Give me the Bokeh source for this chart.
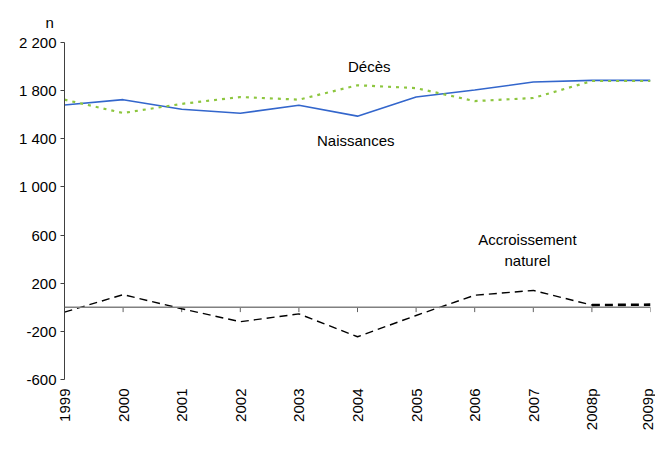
import math
from bokeh.plotting import figure
from bokeh.models import Range1d, FixedTicker, Span, Label
from bokeh.embed import file_html
from bokeh.resources import INLINE

years = ["1999", "2000", "2001", "2002", "2003", "2004", "2005", "2006", "2007", "2008p", "2009p"]
naissances = [1681, 1725, 1646, 1612, 1678, 1588, 1747, 1805, 1872, 1885, 1885]
deces = [1725, 1614, 1690, 1747, 1725, 1845, 1821, 1713, 1739, 1880, 1880]
accroissement = [-40, 105, -12, -120, -55, -245, -68, 100, 140, 18, 22]
y_ticks = [-600, -200, 200, 600, 1000, 1400, 1800, 2200]
y_tick_labels = ["-600", "-200", "200", "600", "1 000", "1 400", "1 800", "2 200"]

idx = list(range(len(years)))
FONT = "Liberation Sans"
FS = "15px"

p = figure(width=655, height=433, output_backend="svg", toolbar_location=None,
           x_range=Range1d(0, len(years) - 1), y_range=Range1d(-600, 2200),
           min_border_left=64, min_border_right=5, min_border_top=41, min_border_bottom=50)
p.outline_line_color = None
p.xgrid.visible = False
p.ygrid.visible = False
p.background_fill_color = "white"
p.border_fill_color = "white"

# unit label "n"
p.title.text = "n"
p.title.align = "left"
p.title.offset = -19
p.title.standoff = 23
p.title.text_font = FONT
p.title.text_font_size = FS
p.title.text_font_style = "normal"
p.title.text_color = "black"

# y axis
p.yaxis.ticker = FixedTicker(ticks=y_ticks)
p.yaxis.major_label_overrides = {t: l for t, l in zip(y_ticks, y_tick_labels)}
p.yaxis.minor_tick_line_color = None
p.yaxis.major_tick_in = 0
p.yaxis.major_tick_out = 4
p.yaxis.axis_line_color = "#404040"
p.yaxis.major_tick_line_color = "#404040"
p.yaxis.major_label_standoff = 4
p.yaxis.major_label_text_font = FONT
p.yaxis.major_label_text_font_size = FS
p.yaxis.major_label_text_color = "black"

# x axis (labels only, at bottom)
p.xaxis.ticker = FixedTicker(ticks=idx)
p.xaxis.major_label_overrides = {i: y for i, y in zip(idx, years)}
p.xaxis.minor_tick_line_color = None
p.xaxis.major_tick_line_color = None
p.xaxis.axis_line_color = None
p.xaxis.major_tick_in = 0
p.xaxis.major_tick_out = 0
p.xaxis.major_label_orientation = math.pi / 2
p.xaxis.major_label_standoff = 9
p.xaxis.major_label_text_font = FONT
p.xaxis.major_label_text_font_size = FS
p.xaxis.major_label_text_color = "black"

# zero line with category ticks
p.add_layout(Span(location=0, dimension="width", line_color="#808080", line_width=1.5))
p.segment(x0=idx, y0=[0] * len(idx), x1=idx, y1=[-40] * len(idx), line_color="#606060", line_width=1)

# series
p.line(idx, naissances, line_color="#3366CC", line_width=1.6)
p.line(idx, deces, line_color="#8DC63F", line_width=2.2, line_dash="3 5")
p.line(idx[:-1], accroissement[:-1], line_color="black", line_width=1.4, line_dash="8 5")
p.line(idx[-2:], accroissement[-2:], line_color="black", line_width=2.6, line_dash="8 5")

# annotations
def lab(x, y, t):
    p.add_layout(Label(x=x, y=y, text=t, text_font=FONT, text_font_size=FS,
                       text_align="center", text_baseline="middle", text_color="black"))

lab(5.2, 1998, "Décès")
lab(4.97, 1389, "Naissances")
lab(7.9, 562, "Accroissement")
lab(7.9, 387, "naturel")

open("out.html", "w").write(file_html(p, INLINE))
